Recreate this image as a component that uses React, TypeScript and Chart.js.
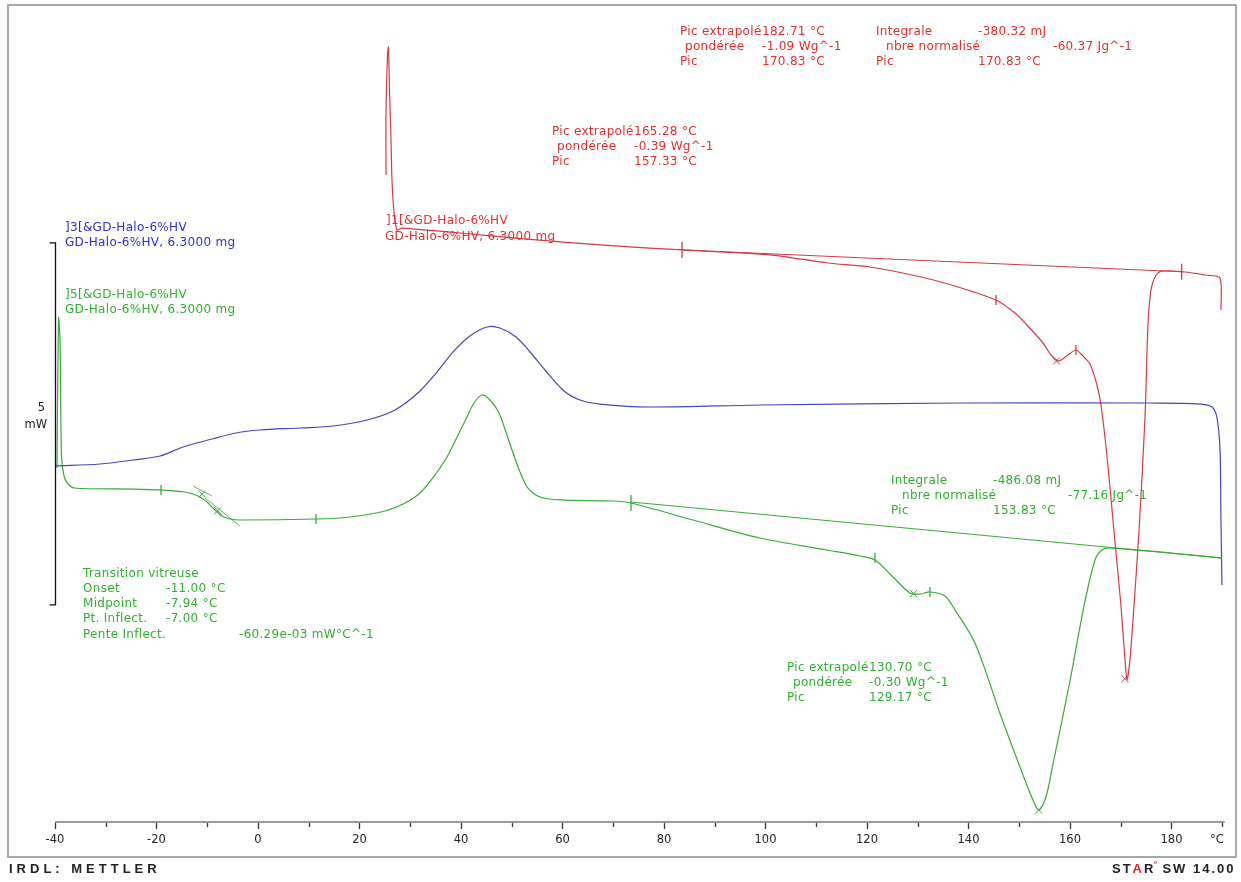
import React, { useEffect, useRef } from "react";
import { Chart, registerables } from "chart.js";

Chart.register(...registerables);

// ---- axis ----
const majorTicks = [-40, -20, 0, 20, 40, 60, 80, 100, 120, 140, 160, 180];
const minorTicks = [-30, -10, 10, 30, 50, 70, 90, 110, 130, 150, 170, 190];
const xMin = -40;
const xMax = 191;
const yMin = -10;
const yMax = 1;
const scaleBarTop = -2; // mW
const scaleBarBottom = -7; // mW  (5 mW bar)

// ---- blue curve ]3[ ----
const blueT = [-40, -31.13, -24.63, -19.31, -14.78, -9.06, -4.33, 0.39, 8.28, 14.78, 21.48, 27.0, 31.72, 35.27, 38.62, 41.77, 45.12, 47.68, 50.84, 53.6, 56.55, 60.3, 63.45, 67.39, 77.24, 98.92, 138.33, 175.76, 185.62, 187.98, 188.97, 189.56, 189.75, 189.95];
const blueMW = [-5.083, -5.055, -5.0, -4.945, -4.82, -4.71, -4.627, -4.586, -4.558, -4.53, -4.448, -4.309, -4.061, -3.785, -3.494, -3.287, -3.163, -3.177, -3.301, -3.508, -3.757, -4.047, -4.171, -4.227, -4.268, -4.24, -4.213, -4.213, -4.227, -4.268, -4.42, -4.862, -5.829, -6.727];

// ---- green curve ]5[ ----
const greenT = [-39.61, -39.31, -39.01, -38.72, -38.23, -37.44, -36.26, -24.63, -19.11, -14.38, -11.82, -10.05, -8.47, -7.09, -5.52, -3.55, 11.43, 18.13, 25.02, 28.97, 31.92, 34.88, 37.24, 40.59, 42.56, 44.14, 45.71, 47.49, 50.05, 51.63, 53.2, 55.57, 59.51, 69.95, 73.5, 85.71, 98.92, 112.12, 118.62, 121.58, 125.12, 128.47, 130.44, 132.41, 135.37, 137.34, 141.28, 146.6, 150.74, 152.71, 153.89, 155.27, 156.65, 160.0, 162.76, 164.93, 166.31, 167.88, 189.95];
const greenMW = [-5.11, -3.039, -3.343, -4.931, -5.221, -5.331, -5.387, -5.401, -5.414, -5.442, -5.497, -5.58, -5.691, -5.773, -5.815, -5.829, -5.815, -5.787, -5.704, -5.594, -5.456, -5.207, -4.959, -4.489, -4.213, -4.102, -4.171, -4.351, -4.862, -5.166, -5.387, -5.511, -5.552, -5.566, -5.594, -5.829, -6.077, -6.243, -6.326, -6.381, -6.616, -6.837, -6.851, -6.823, -6.878, -7.072, -7.528, -8.577, -9.351, -9.696, -9.834, -9.655, -9.199, -8.052, -7.017, -6.381, -6.243, -6.215, -6.354];

// ---- red curve ]1[ ----
const redT = [25.22, 25.22, 25.52, 25.71, 25.91, 26.21, 26.4, 26.8, 27.39, 28.37, 39.8, 53.0, 67.39, 83.55, 101.28, 112.32, 120.59, 130.64, 137.93, 145.42, 149.16, 151.33, 154.68, 156.26, 157.83, 159.61, 161.18, 162.56, 163.94, 165.32, 166.11, 167.29, 168.67, 170.05, 170.84, 171.23, 171.82, 172.61, 173.6, 174.78, 175.37, 175.96, 176.75, 177.93, 182.66, 186.6, 189.56, 189.75];
const redMW = [-1.064, -0.235, 0.594, 0.704, 0.11, -0.58, -1.133, -1.575, -1.823, -1.796, -1.865, -1.948, -2.03, -2.099, -2.169, -2.279, -2.334, -2.472, -2.61, -2.79, -2.97, -3.122, -3.384, -3.55, -3.633, -3.55, -3.481, -3.564, -3.674, -3.964, -4.24, -4.945, -5.981, -7.017, -7.762, -8.039, -7.762, -7.017, -5.981, -4.42, -3.122, -2.652, -2.472, -2.39, -2.403, -2.445, -2.486, -2.928];

// ---- evaluation baselines / tangents ----
const redBaseT = [83.55, 182.0];
const redBaseMW = [-2.099, -2.4];
const greenBaseT = [73.5, 189.95];
const greenBaseMW = [-5.58, -6.354];
const tangentAT = [-12.81, -9.06];
const tangentAMW = [-5.359, -5.497];
const tangentBT = [-10.44, -3.55];
const tangentBMW = [-5.525, -5.912];

// ---- evaluation markers ----
const redFlagT = [83.55, 145.42, 161.18, 182.0];
const redFlagMW = [-2.099, -2.79, -3.481, -2.4];
const redFlagSize = [8, 5, 5, 8];
const greenFlagT = [-19.11, 11.43, 73.5, 121.58, 132.41];
const greenFlagMW = [-5.414, -5.815, -5.594, -6.35, -6.823];
const greenFlagSize = [5, 5, 8, 5, 5];
const redCrossT = [157.33, 170.83];
const redCrossMW = [-3.633, -8.02];
const greenCrossT = [-11.0, -7.94, 129.17, 153.83];
const greenCrossMW = [-5.47, -5.70, -6.845, -9.834];

const RED = "#d23c46";
const RED_TXT = "#e0302c";
const BLUE = "#4646b8";
const BLUE_TXT = "#3030d0";
const GREEN = "#3aaa3a";
const GREEN_TXT = "#30b030";

const zip = (t: number[], v: number[]) => t.map((x, i) => ({ x, y: v[i] }));

const lineDs = (t: number[], v: number[], color: string, w = 1.2, tension = 0) => ({
  data: zip(t, v),
  showLine: true,
  borderColor: color,
  backgroundColor: color,
  borderWidth: w,
  pointRadius: 0,
  tension,
  fill: false,
});

const markDs = (t: number[], v: number[], color: string, style: string, size: number | number[], w = 1.3) => ({
  data: zip(t, v),
  showLine: false,
  borderColor: color,
  backgroundColor: color,
  borderWidth: w,
  pointStyle: style,
  pointRadius: size,
  rotation: style === "line" ? 90 : 0,
});

const FONT = '12px "DejaVu Sans", Verdana, sans-serif';

type Row = [string, number, number];

function drawBlock(ctx: CanvasRenderingContext2D, color: string, items: Row[]) {
  ctx.fillStyle = color;
  ctx.font = FONT;
  ctx.textAlign = "left";
  ctx.textBaseline = "middle";
  (ctx as any).letterSpacing = "0.3px";
  for (const [s, x, y] of items) ctx.fillText(s, x, y);
  (ctx as any).letterSpacing = "0px";
}

const decorPlugin = {
  id: "decor",
  afterDraw(chart: any) {
    const ctx: CanvasRenderingContext2D = chart.ctx;
    const xs = chart.scales.x;
    const ys = chart.scales.y;
    const bottom = chart.chartArea.bottom;
    ctx.save();
    // frame
    ctx.strokeStyle = "#a8a8a8";
    ctx.lineWidth = 2;
    ctx.strokeRect(8, 5, 1228, 852);

    // x axis
    ctx.strokeStyle = "#9a9a9a";
    ctx.lineWidth = 2;
    ctx.beginPath();
    ctx.moveTo(xs.getPixelForValue(-40), bottom);
    ctx.lineTo(xs.getPixelForValue(190.5), bottom);
    ctx.stroke();
    ctx.strokeStyle = "#333";
    ctx.lineWidth = 1.3;
    ctx.beginPath();
    for (const t of majorTicks) {
      const px = Math.round(xs.getPixelForValue(t)) + 0.5;
      ctx.moveTo(px, bottom + 1);
      ctx.lineTo(px, bottom + 7);
    }
    for (const t of minorTicks) {
      const px = Math.round(xs.getPixelForValue(t)) + 0.5;
      ctx.moveTo(px, bottom + 1);
      ctx.lineTo(px, bottom + 5);
    }
    ctx.stroke();
    ctx.fillStyle = "#222";
    ctx.font = '11.5px "DejaVu Sans", Verdana, sans-serif';
    ctx.textAlign = "center";
    ctx.textBaseline = "middle";
    for (const t of majorTicks) ctx.fillText(String(t), xs.getPixelForValue(t), bottom + 18);
    ctx.fillText("°C", 1217, bottom + 18);

    // scale bar 5 mW
    const yt = ys.getPixelForValue(scaleBarTop);
    const yb = ys.getPixelForValue(scaleBarBottom);
    const xb = chart.chartArea.left + 0.5;
    ctx.strokeStyle = "#111";
    ctx.lineWidth = 1.3;
    ctx.beginPath();
    ctx.moveTo(xb - 6, yt);
    ctx.lineTo(xb, yt);
    ctx.lineTo(xb, yb);
    ctx.lineTo(xb - 6, yb);
    ctx.stroke();
    ctx.fillStyle = "#222";
    ctx.textAlign = "right";
    ctx.fillText(String(scaleBarTop - scaleBarBottom), 45, (yt + yb) / 2 - 16);
    ctx.fillText("mW", 47, (yt + yb) / 2 + 1);

    // legends
    drawBlock(ctx, BLUE_TXT, [["]3[&GD-Halo-6%HV", 65, 228], ["GD-Halo-6%HV, 6.3000 mg", 65, 243]]);
    drawBlock(ctx, GREEN_TXT, [["]5[&GD-Halo-6%HV", 65, 295], ["GD-Halo-6%HV, 6.3000 mg", 65, 310]]);
    drawBlock(ctx, RED_TXT, [["]1[&GD-Halo-6%HV", 386, 221], ["GD-Halo-6%HV, 6.3000 mg", 385, 237]]);

    // red evaluations
    drawBlock(ctx, RED_TXT, [
      ["Pic extrapolé", 680, 32], ["182.71 °C", 762, 32],
      ["pondérée", 685, 47], ["-1.09 Wg^-1", 762, 47],
      ["Pic", 680, 62], ["170.83 °C", 762, 62],
      ["Integrale", 876, 32], ["-380.32 mJ", 978, 32],
      ["nbre normalisé", 886, 47], ["-60.37 Jg^-1", 1053, 47],
      ["Pic", 876, 62], ["170.83 °C", 978, 62],
      ["Pic extrapolé", 552, 132], ["165.28 °C", 634, 132],
      ["pondérée", 557, 147], ["-0.39 Wg^-1", 634, 147],
      ["Pic", 552, 162], ["157.33 °C", 634, 162],
    ]);

    // green evaluations
    drawBlock(ctx, GREEN_TXT, [
      ["Integrale", 891, 481], ["-486.08 mJ", 993, 481],
      ["nbre normalisé", 902, 496], ["-77.16 Jg^-1", 1068, 496],
      ["Pic", 891, 511], ["153.83 °C", 993, 511],
      ["Pic extrapolé", 787, 668], ["130.70 °C", 869, 668],
      ["pondérée", 793, 683], ["-0.30 Wg^-1", 869, 683],
      ["Pic", 787, 698], ["129.17 °C", 869, 698],
      ["Transition vitreuse", 83, 574],
      ["Onset", 83, 589], ["-11.00 °C", 166, 589],
      ["Midpoint", 83, 604], ["-7.94 °C", 166, 604],
      ["Pt. Inflect.", 83, 619], ["-7.00 °C", 166, 619],
      ["Pente Inflect.", 83, 635], ["-60.29e-03 mW°C^-1", 239, 635],
    ]);

    // footer left
    const bold = 'bold 13px "Liberation Sans", Arial, sans-serif';
    ctx.fillStyle = "#222";
    ctx.font = bold;
    ctx.textAlign = "left";
    ctx.textBaseline = "middle";
    (ctx as any).letterSpacing = "4px";
    ctx.fillText("IRDL: METTLER", 9, 869);
    // footer right: STAR° SW 14.00
    (ctx as any).letterSpacing = "2px";
    const parts: [string, string][] = [["ST", "#222"], ["A", "#d8262c"], ["R", "#222"]];
    let x = 1112;
    for (const [s, c] of parts) {
      ctx.fillStyle = c;
      ctx.fillText(s, x, 869);
      x += ctx.measureText(s).width;
    }
    ctx.fillStyle = "#d8262c";
    ctx.font = 'bold 9px "Liberation Sans", Arial, sans-serif';
    (ctx as any).letterSpacing = "0px";
    ctx.fillText("°", x - 2, 865);
    x += 7;
    ctx.fillStyle = "#222";
    ctx.font = bold;
    (ctx as any).letterSpacing = "2px";
    ctx.fillText("SW 14.00", x, 869);
    (ctx as any).letterSpacing = "0px";
    ctx.restore();
  },
};

export default function App() {
  const ref = useRef<HTMLCanvasElement | null>(null);
  useEffect(() => {
    if (!ref.current) return;
    const chart = new Chart(ref.current, {
      type: "scatter",
      data: {
        datasets: [
          lineDs(redBaseT, redBaseMW, RED, 1),
          lineDs(greenBaseT, greenBaseMW, GREEN, 1),
          lineDs(tangentAT, tangentAMW, GREEN, 0.8),
          lineDs(tangentBT, tangentBMW, GREEN, 0.8),
          lineDs(blueT, blueMW, BLUE, 1.2, 0.35),
          lineDs(greenT, greenMW, GREEN, 1.2, 0.3),
          lineDs(redT, redMW, RED, 1.2, 0.25),
          markDs(redFlagT, redFlagMW, RED, "line", redFlagSize),
          markDs(greenFlagT, greenFlagMW, GREEN, "line", greenFlagSize),
          markDs(redCrossT, redCrossMW, RED, "crossRot", 5, 1),
          markDs(greenCrossT, greenCrossMW, GREEN, "crossRot", 5, 1),
        ] as any,
      },
      options: {
        animation: false,
        responsive: false,
        maintainAspectRatio: false,
        layout: { padding: { left: 55, right: 13.7, top: 25.6, bottom: 60 } },
        plugins: { legend: { display: false }, tooltip: { enabled: false } },
        scales: {
          x: { type: "linear", min: xMin, max: xMax, display: false },
          y: { type: "linear", min: yMin, max: yMax, display: false },
        },
      } as any,
      plugins: [decorPlugin],
    });
    return () => chart.destroy();
  }, []);
  return (
    <div style={{ position: "fixed", left: 0, top: 0, width: 1241, height: 882, background: "#fff" }}>
      <canvas ref={ref} width={1241} height={882} style={{ width: 1241, height: 882, display: "block" }} />
    </div>
  );
}
